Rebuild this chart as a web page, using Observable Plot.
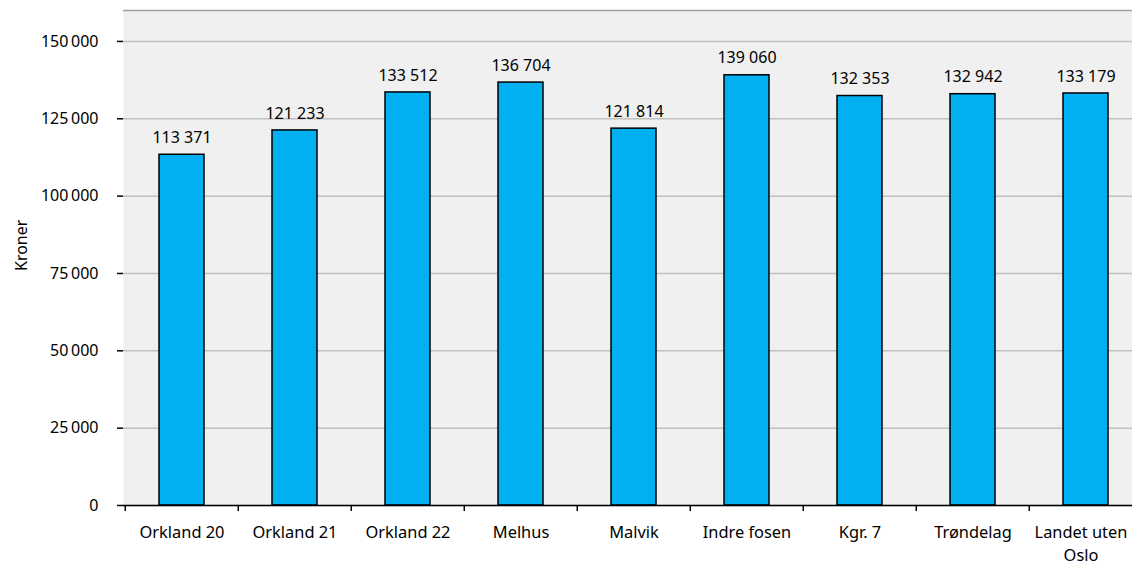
<!DOCTYPE html>
<html>
<head>
<meta charset="utf-8">
<script src="https://cdn.jsdelivr.net/npm/d3@7"></script>
<script src="https://cdn.jsdelivr.net/npm/@observablehq/plot@0.6"></script>
<style>
  html, body { margin: 0; padding: 0; background: #fff; overflow: hidden; }
  #chart { width: 1132px; height: 566px; overflow: hidden; }
  #chart svg { max-width: none !important; }
</style>
</head>
<body>
<div id="chart"></div>
<script>
const categories = ["Orkland 20", "Orkland 21", "Orkland 22", "Melhus", "Malvik", "Indre fosen", "Kgr. 7", "Trøndelag", "Landet uten Oslo"];
const values = [113371, 121233, 133512, 136704, 121814, 139060, 132353, 132942, 133179];
const yTicks = [0, 25000, 50000, 75000, 100000, 125000, 150000];
const yLabel = "Kroner";

const data = categories.map((c, i) => ({category: c, value: values[i]}));
const fmtValue = d3.formatLocale({thousands: "\u00a0", grouping: [3], decimal: ","}).format(",d");
const fmtTick = d3.formatLocale({thousands: "\u202f", grouping: [3], decimal: ","}).format(",d");

const W = 1144, ML = 123, MR = 0, MT = 10, MB = 61;
const step = (W - ML - MR) / categories.length;
const font = "'Noto Sans', sans-serif";

const chart = Plot.plot({
  width: W,
  height: 566,
  marginLeft: ML,
  marginRight: MR,
  marginTop: MT,
  marginBottom: MB,
  style: {fontFamily: font, fontSize: "16px", color: "#000", background: "transparent", maxWidth: "none"},
  x: {domain: categories, paddingInner: 0.6, paddingOuter: 0.3, label: null},
  y: {domain: [0, 160000], label: null},
  marks: [
    Plot.frame({fill: "#f0f0f0", stroke: null}),
    Plot.gridY(yTicks, {stroke: "#c0c0c0", strokeOpacity: 1, strokeWidth: 1.5}),
    Plot.ruleY([160000], {stroke: "#a0a0a0", strokeWidth: 1.5}),
    Plot.barY(data, {x: "category", y: "value", fill: "#00b0f0", stroke: "#000", strokeWidth: 1.5}),
    Plot.text(data, {x: "category", y: "value", text: d => fmtValue(d.value), dy: -17, fontSize: 16, fill: "#000"}),
    Plot.ruleX([0], {x: () => null, frameAnchor: "left", stroke: "#000", strokeWidth: 1.5}),
    Plot.ruleY([0], {stroke: "#000", strokeWidth: 1.5}),
    Plot.axisY(yTicks, {tickSize: 6, tickPadding: 19, tickFormat: fmtTick, fontSize: 16, stroke: "#000", strokeWidth: 1.5, label: null}),
    Plot.axisX({tickSize: 6, dx: -step / 2, tickFormat: () => "", stroke: "#000", strokeWidth: 1.5, label: null}),
    Plot.axisX(categories.slice(0, -1), {tickSize: 0, tickPadding: 21, fontSize: 16.4, label: null}),
    Plot.axisX(categories.slice(-1), {tickSize: 0, tickPadding: 16, lineWidth: 6, lineHeight: 1.42, fontSize: 16.4, dx: -5, label: null}),
    Plot.text([yLabel], {frameAnchor: "left", text: d => d, rotate: -90, dx: -102, dy: 13, fontSize: 16, fill: "#000"})
  ]
});
document.getElementById("chart").appendChild(chart);
</script>
</body>
</html>
